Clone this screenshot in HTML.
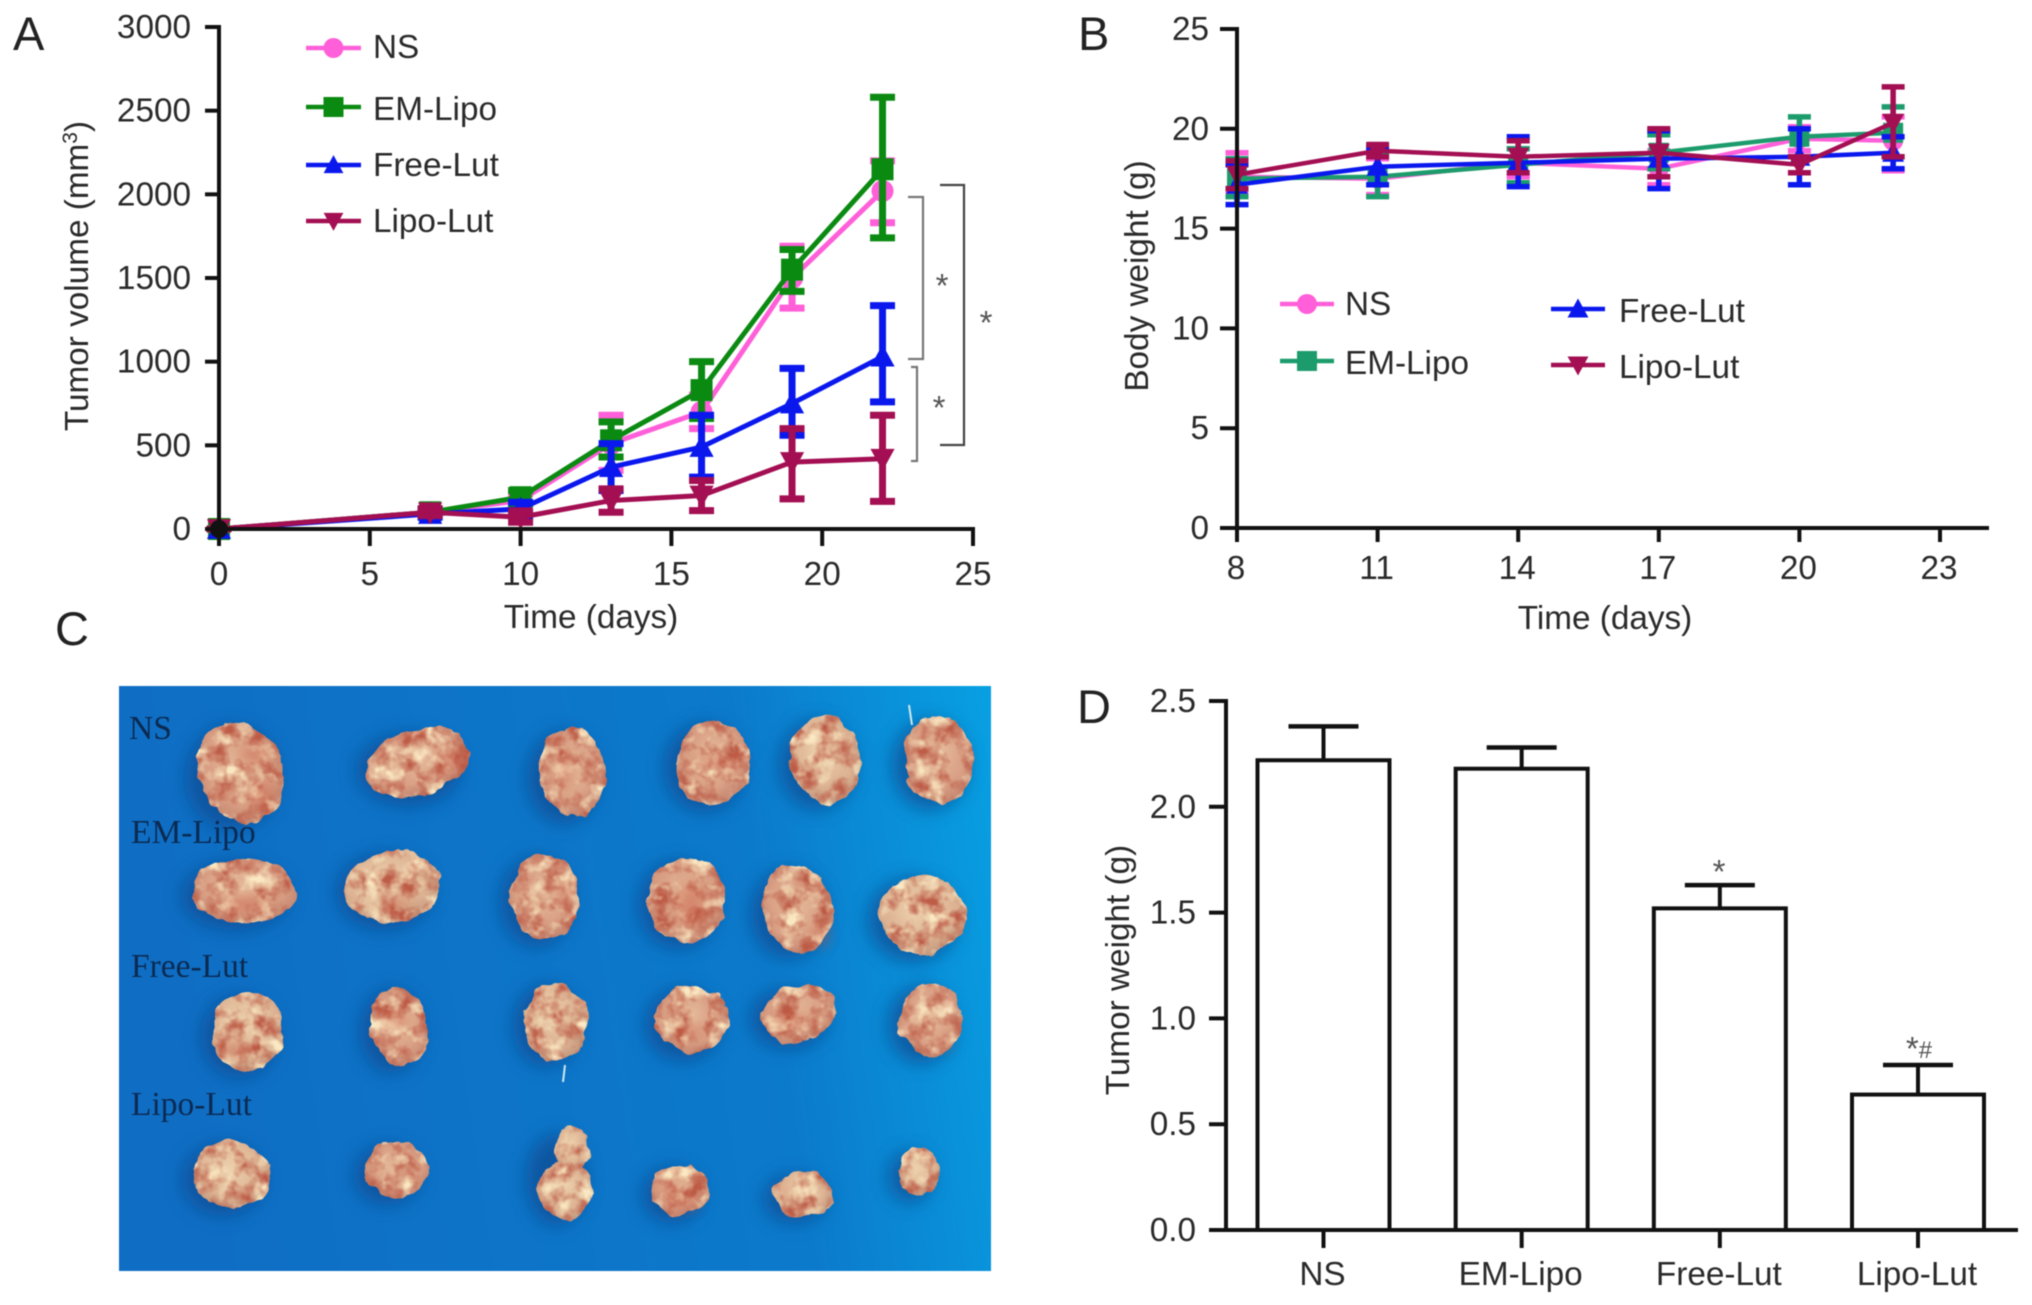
<!DOCTYPE html>
<html lang="en">
<head>
<meta charset="utf-8">
<title>Tumor study figure</title>
<style>
html,body{margin:0;padding:0;background:#fff;}
svg{display:block;filter:blur(.55px);}
text{font-family:"Liberation Sans",sans-serif;font-size:33.3px;fill:#2a2a2a;}
.serif{font-family:"Liberation Serif",serif;font-size:33.5px;fill:#0b2a52;}
.letter{font-size:47px;fill:#222;}
.star{fill:#555;font-size:33px;}
</style>
</head>
<body>
<svg id="fig" xmlns="http://www.w3.org/2000/svg" width="2032" height="1305" viewBox="0 0 2032 1305">
<defs>
  <linearGradient id="bg" x1="0" y1="0.1" x2="1" y2="0">
    <stop offset="0" stop-color="#0f6ec4"/>
    <stop offset=".7" stop-color="#0c7acb"/>
    <stop offset="1" stop-color="#08a0e2"/>
  </linearGradient>
  <radialGradient id="t1" cx=".48" cy=".45" r=".62">
    <stop offset="0" stop-color="#e6bc9c"/>
    <stop offset=".6" stop-color="#d99f84"/>
    <stop offset="1" stop-color="#bd7d68"/>
  </radialGradient>
  <radialGradient id="t2" cx=".45" cy=".4" r=".65">
    <stop offset="0" stop-color="#eed2ae"/>
    <stop offset=".65" stop-color="#dcb292"/>
    <stop offset="1" stop-color="#bf9278"/>
  </radialGradient>
  <filter id="bump" x="-5%" y="-5%" width="110%" height="110%" color-interpolation-filters="sRGB">
    <feTurbulence type="fractalNoise" baseFrequency=".05" numOctaves="3" seed="7" result="n"/>
    <feDisplacementMap in="SourceGraphic" in2="n" scale="11" xChannelSelector="R" yChannelSelector="G" result="d"/>
    <feTurbulence type="fractalNoise" baseFrequency=".055" numOctaves="3" seed="3" result="n2"/>
    <feColorMatrix in="n2" type="matrix" values="0 0 0 0 .74  0 0 0 0 .36  0 0 0 0 .28  2.8 0 0 0 -1.15" result="dark"/>
    <feComposite in="dark" in2="d" operator="in" result="darkIn"/>
    <feColorMatrix in="n2" type="matrix" values="0 0 0 0 .98  0 0 0 0 .91  0 0 0 0 .76  0 3.2 0 0 -1.6" result="light"/>
    <feComposite in="light" in2="d" operator="in" result="lightIn"/>
    <feMerge><feMergeNode in="d"/><feMergeNode in="darkIn"/><feMergeNode in="lightIn"/></feMerge>
  </filter>
  <filter id="soft" x="-50%" y="-50%" width="200%" height="200%"><feGaussianBlur stdDeviation="9"/></filter>
  <filter id="spot" x="-80%" y="-80%" width="260%" height="260%"><feGaussianBlur stdDeviation="6"/></filter>
</defs>

<!-- Photo panel C -->
<g>
  <rect x="119" y="686" width="872" height="585" fill="url(#bg)"/>
  <g fill="#0a4a90" opacity=".7" filter="url(#soft)">
    <ellipse cx="232" cy="778" rx="46" ry="52"/><ellipse cx="408" cy="770" rx="52" ry="36"/><ellipse cx="563" cy="778" rx="36" ry="46"/><ellipse cx="704" cy="768" rx="40" ry="44"/><ellipse cx="817" cy="765" rx="38" ry="45"/><ellipse cx="930" cy="765" rx="38" ry="45"/>
    <ellipse cx="235" cy="896" rx="54" ry="34"/><ellipse cx="384" cy="892" rx="48" ry="38"/><ellipse cx="536" cy="902" rx="36" ry="45"/><ellipse cx="678" cy="905" rx="40" ry="44"/><ellipse cx="789" cy="914" rx="38" ry="45"/><ellipse cx="913" cy="920" rx="45" ry="42"/>
    <ellipse cx="239" cy="1037" rx="38" ry="41"/><ellipse cx="391" cy="1031" rx="31" ry="42"/><ellipse cx="546" cy="1026" rx="33" ry="41"/><ellipse cx="683" cy="1025" rx="38" ry="36"/><ellipse cx="789" cy="1019" rx="39" ry="30"/><ellipse cx="921" cy="1025" rx="33" ry="39"/>
    <ellipse cx="223" cy="1180" rx="41" ry="36"/><ellipse cx="387" cy="1175" rx="33" ry="30"/><ellipse cx="556" cy="1180" rx="30" ry="46"/><ellipse cx="672" cy="1195" rx="30" ry="28"/><ellipse cx="795" cy="1199" rx="32" ry="24"/><ellipse cx="910" cy="1177" rx="22" ry="26"/>
  </g>
  <g filter="url(#bump)">
    <ellipse cx="241" cy="772" rx="42" ry="52" transform="rotate(-25 241 772)" fill="url(#t1)"/>
    <ellipse cx="417" cy="763" rx="52" ry="33" transform="rotate(-15 417 763)" fill="url(#t1)"/>
    <ellipse cx="572" cy="772" rx="33" ry="45" transform="rotate(-5 572 772)" fill="url(#t1)"/>
    <ellipse cx="713" cy="763" rx="37" ry="42" transform="rotate(15 713 763)" fill="url(#t1)"/>
    <ellipse cx="826" cy="759" rx="35" ry="44" transform="rotate(-5 826 759)" fill="url(#t2)"/>
    <ellipse cx="939" cy="759" rx="35" ry="44" transform="rotate(-5 939 759)" fill="url(#t1)"/>
    <ellipse cx="244" cy="891" rx="52" ry="32" fill="url(#t1)"/>
    <ellipse cx="393" cy="887" rx="47" ry="36" transform="rotate(-10 393 887)" fill="url(#t2)"/>
    <ellipse cx="545" cy="897" rx="34" ry="43" transform="rotate(-3 545 897)" fill="url(#t1)"/>
    <ellipse cx="687" cy="900" rx="39" ry="42" transform="rotate(-5 687 900)" fill="url(#t1)"/>
    <ellipse cx="798" cy="909" rx="35" ry="44" transform="rotate(-12 798 909)" fill="url(#t1)"/>
    <ellipse cx="922" cy="915" rx="43" ry="40" fill="url(#t2)"/>
    <ellipse cx="248" cy="1032" rx="36" ry="40" fill="url(#t2)"/>
    <ellipse cx="400" cy="1026" rx="29" ry="40" transform="rotate(-12 400 1026)" fill="url(#t1)"/>
    <ellipse cx="555" cy="1021" rx="31" ry="39" fill="url(#t2)"/>
    <ellipse cx="692" cy="1020" rx="36" ry="34" fill="url(#t1)"/>
    <ellipse cx="798" cy="1014" rx="38" ry="28" transform="rotate(-15 798 1014)" fill="url(#t1)"/>
    <ellipse cx="930" cy="1020" rx="31" ry="37" fill="url(#t1)"/>
    <ellipse cx="232" cy="1175" rx="39" ry="34" transform="rotate(10 232 1175)" fill="url(#t2)"/>
    <ellipse cx="396" cy="1170" rx="32" ry="28" fill="url(#t1)"/>
    <ellipse cx="572" cy="1150" rx="16" ry="26" fill="url(#t2)"/>
    <ellipse cx="565" cy="1190" rx="27" ry="29" fill="url(#t2)"/>
    <ellipse cx="681" cy="1190" rx="28" ry="26" fill="url(#t1)"/>
    <ellipse cx="804" cy="1194" rx="30" ry="22" fill="url(#t2)"/>
    <ellipse cx="919" cy="1172" rx="20" ry="24" fill="url(#t2)"/>
  </g>
  <g fill="#c4523e" opacity=".45" filter="url(#spot)">
    <ellipse cx="255" cy="755" rx="18" ry="7"/><ellipse cx="262" cy="795" rx="10" ry="14"/><ellipse cx="450" cy="760" rx="10" ry="12"/><ellipse cx="565" cy="770" rx="6" ry="18"/><ellipse cx="720" cy="762" rx="26" ry="5"/>
    <ellipse cx="245" cy="904" rx="24" ry="7"/><ellipse cx="395" cy="904" rx="14" ry="7"/><ellipse cx="565" cy="890" rx="5" ry="12"/><ellipse cx="690" cy="905" rx="13" ry="22"/><ellipse cx="822" cy="935" rx="7" ry="12"/>
    <ellipse cx="235" cy="1050" rx="14" ry="7"/><ellipse cx="395" cy="1020" rx="12" ry="9"/><ellipse cx="690" cy="1030" rx="14" ry="5"/><ellipse cx="790" cy="1020" rx="18" ry="7"/><ellipse cx="945" cy="1045" rx="7" ry="5"/>
    <ellipse cx="672" cy="1195" rx="7" ry="14"/><ellipse cx="690" cy="1205" rx="9" ry="5"/><ellipse cx="785" cy="1192" rx="5" ry="4"/>
  </g>
  <g stroke="#cfe8ee" stroke-width="2" fill="none">
    <path d="M909 705L912 725"/>
    <path d="M565 1065L563 1082"/>
  </g>
  <text class="serif" x="129" y="739">NS</text>
  <text class="serif" x="131" y="843">EM-Lipo</text>
  <text class="serif" x="131" y="977">Free-Lut</text>
  <text class="serif" x="131" y="1115">Lipo-Lut</text>
</g>

<!-- Panel letters -->
<text class="letter" x="13" y="50">A</text>
<text class="letter" x="1078" y="50">B</text>
<text class="letter" x="55" y="645">C</text>
<text class="letter" x="1077" y="723">D</text>

<!-- Axis titles -->
<text x="591" y="628" text-anchor="middle">Time (days)</text>
<text transform="translate(88 276) rotate(-90)" text-anchor="middle">Tumor volume (mm<tspan font-size="21" dy="-11">3</tspan><tspan dy="11">)</tspan></text>
<text x="1605" y="629" text-anchor="middle">Time (days)</text>
<text transform="translate(1148 276) rotate(-90)" text-anchor="middle">Body weight (g)</text>
<text transform="translate(1129 970) rotate(-90)" text-anchor="middle">Tumor weight (g)</text>

<!-- Legend A -->
<g>
  <text x="373" y="58">NS</text>
  <text x="373" y="120">EM-Lipo</text>
  <text x="373" y="176">Free-Lut</text>
  <text x="373" y="232">Lipo-Lut</text>
</g>
<!-- Legend B -->
<g>
  <text x="1345" y="315">NS</text>
  <text x="1345" y="374">EM-Lipo</text>
  <text x="1619" y="322">Free-Lut</text>
  <text x="1619" y="378">Lipo-Lut</text>
</g>

<!-- Significance annotations -->
<g fill="none" stroke="#777" stroke-width="2.2">
  <path d="M908 197H923V359H908"/>
  <path d="M911 367H917V461H911"/>
  <path d="M940 185H964V445H940" stroke="#444"/>
</g>
<text class="star" x="942" y="297" text-anchor="middle">*</text>
<text class="star" x="939" y="419" text-anchor="middle">*</text>
<text class="star" x="986" y="334" text-anchor="middle">*</text>
<text class="star" x="1719" y="883" text-anchor="middle">*</text>
<text class="star" x="1919" y="1060" text-anchor="middle">*<tspan font-size="24" dy="-2">#</tspan></text>

<g id="plots"></g>
</svg>

<script>
// Panel A data
const aDays = [0, 7, 10, 13, 16, 19, 22];
const aXTicks = [0, 5, 10, 15, 20, 25];
const aYTicks = [0, 500, 1000, 1500, 2000, 2500, 3000];
const aNS = [0, 100, 170, 510, 700, 1500, 2020];
const aNSHigh = [0, 120, 210, 680, 800, 1690, 2200];
const aNSLow = [0, 80, 130, 350, 600, 1320, 1830];
const aEM = [0, 100, 190, 530, 830, 1550, 2150];
const aEMHigh = [0, 120, 230, 640, 1000, 1670, 2580];
const aEMLow = [0, 80, 150, 430, 660, 1420, 1740];
const aFree = [0, 90, 120, 370, 490, 750, 1030];
const aFreeHigh = [0, 110, 160, 510, 680, 960, 1335];
const aFreeLow = [0, 70, 80, 230, 310, 560, 760];
const aLipo = [0, 100, 70, 170, 200, 400, 420];
const aLipoHigh = [0, 120, 100, 240, 290, 600, 680];
const aLipoLow = [0, 80, 40, 100, 110, 180, 165];

// Panel B data
const bDays = [8, 11, 14, 17, 20, 22];
const bXTicks = [8, 11, 14, 17, 20, 23];
const bYTicks = [0, 5, 10, 15, 20, 25];
const bNS = [17.6, 17.5, 18.3, 18.0, 19.5, 19.4];
const bNSHigh = [18.8, 18.5, 19.0, 18.9, 20.1, 20.6];
const bNSLow = [16.8, 16.7, 17.6, 17.2, 18.9, 17.9];
const bEM = [17.5, 17.6, 18.2, 18.8, 19.6, 19.8];
const bEMHigh = [18.5, 18.8, 19.0, 19.7, 20.6, 21.1];
const bEMLow = [16.6, 16.6, 17.3, 18.0, 18.6, 18.6];
const bFree = [17.2, 18.1, 18.3, 18.5, 18.6, 18.8];
const bFreeHigh = [18.2, 19.0, 19.6, 19.9, 20.0, 19.6];
const bFreeLow = [16.2, 17.2, 17.1, 17.0, 17.2, 18.0];
const bLipo = [17.7, 18.9, 18.6, 18.8, 18.2, 20.3];
const bLipoHigh = [18.4, 19.2, 19.4, 20.0, 18.6, 22.1];
const bLipoLow = [17.0, 18.6, 17.8, 17.6, 17.8, 18.6];

// Panel D data
const dCategories = ['NS', 'EM-Lipo', 'Free-Lut', 'Lipo-Lut'];
const dValues = [2.22, 2.18, 1.52, 0.64];
const dErrorTops = [2.38, 2.28, 1.63, 0.78];
const dYTicks = ['0.0', '0.5', '1.0', '1.5', '2.0', '2.5'];

const NSVG = document.getElementById('fig').namespaceURI;
const plots = document.getElementById('plots');

function node(tag, parent, attrs, name) {
  const el = document.createElementNS(NSVG, tag);
  for (const k in attrs) el.setAttribute(k, attrs[k]);
  
  
  parent.appendChild(el);
  return el;
}
function ln(parent, x1, y1, x2, y2, stroke, w, name) {
  return node('line', parent, {x1, y1, x2, y2, stroke, 'stroke-width': w}, name);
}
function label(parent, x, y, str, anchor, name) {
  const t = node('text', parent, {x, y, 'text-anchor': anchor}, name);
  t.textContent = str;
  return t;
}
function marker(parent, kind, x, y, s, color, name) {
  if (kind === 'circle') return node('circle', parent, {cx: x, cy: y, r: s, fill: color}, name);
  if (kind === 'square') return node('rect', parent, {x: x - s, y: y - s, width: 2 * s, height: 2 * s, fill: color}, name);
  const d = kind === 'up' ? 1 : -1;
  const pts = [[x - s * 1.1, y + d * s * .9], [x + s * 1.1, y + d * s * .9], [x, y - d * s * 1.1]];
  return node('polygon', parent, {points: pts.map(p => p.join(',')).join(' '), fill: color}, name);
}
function series(g, prefix, xs, vals, hi, lo, xf, yf, color, kind, cfg) {
  const sg = node('g', g, {}, prefix + '-series');
  node('polyline', sg, {points: xs.map((d, i) => xf(d) + ',' + yf(vals[i])).join(' '), fill: 'none', stroke: color, 'stroke-width': cfg.lw}, prefix + '-line');
  xs.forEach((d, i) => {
    const x = xf(d);
    ln(sg, x, yf(hi[i]), x, yf(lo[i]), color, cfg.ew, prefix + '-error-bar');
    ln(sg, x - cfg.cap, yf(hi[i]), x + cfg.cap, yf(hi[i]), color, cfg.ew, prefix + '-error-cap-high');
    ln(sg, x - cfg.cap, yf(lo[i]), x + cfg.cap, yf(lo[i]), color, cfg.ew, prefix + '-error-cap-low');
    marker(sg, kind, x, yf(vals[i]), cfg.ms, color, prefix + '-point');
  });
}
function legendKey(g, x1, x2, y, color, kind, s, name) {
  ln(g, x1, y, x2, y, color, 4.5, name + '-line');
  marker(g, kind, (x1 + x2) / 2, y, s, color, name + '-marker');
}

const INK = '#111';
const NS_C = '#ff5fd8', EM_A = '#0b8a12', EM_B = '#1c9c6c', FREE_C = '#0a18ee', LIPO_C = '#a30f52';

/* ---------- Panel A ---------- */
const xA = d => 219 + d * (973 - 219) / 25;
const yA = v => 529 - v * (529 - 27) / 3000;
const gA = node('g', plots, {}, 'panel-a-chart');
const aCfg = {lw: 5, ew: 7, cap: 12.5, ms: 11};
series(gA, 'a-ns', aDays, aNS, aNSHigh, aNSLow, xA, yA, NS_C, 'circle', aCfg);
series(gA, 'a-em-lipo', aDays, aEM, aEMHigh, aEMLow, xA, yA, EM_A, 'square', aCfg);
series(gA, 'a-free-lut', aDays, aFree, aFreeHigh, aFreeLow, xA, yA, FREE_C, 'up', aCfg);
series(gA, 'a-lipo-lut', aDays, aLipo, aLipoHigh, aLipoLow, xA, yA, LIPO_C, 'down', aCfg);
ln(gA, xA(0), yA(0) + 2, xA(0), yA(3000) - 2, INK, 4, 'a-y-axis');
ln(gA, xA(0) - 2, yA(0), xA(25) + 2, yA(0), INK, 4, 'a-x-axis');
aYTicks.forEach(v => {
  ln(gA, 205, yA(v), xA(0), yA(v), INK, 4, 'a-y-tick');
  label(gA, 191, yA(v) + 11, String(v), 'end', 'a-y-tick-label');
});
aXTicks.forEach(v => {
  ln(gA, xA(v), yA(0), xA(v), 546, INK, 4, 'a-x-tick');
  label(gA, xA(v), 585, String(v), 'middle', 'a-x-tick-label');
});
node('circle', gA, {cx: xA(0), cy: yA(0), r: 9, fill: '#111'}, 'a-origin-dot');
legendKey(gA, 306, 361, 48, NS_C, 'circle', 10, 'a-legend-ns-key');
legendKey(gA, 306, 361, 107, EM_A, 'square', 10, 'a-legend-em-key');
legendKey(gA, 306, 361, 165, FREE_C, 'up', 9, 'a-legend-free-key');
legendKey(gA, 306, 361, 221, LIPO_C, 'down', 9, 'a-legend-lipo-key');

/* ---------- Panel B ---------- */
const xB = d => 1237 + (d - 8) * (1940 - 1237) / 15;
const yB = v => 528 - v * (528 - 29) / 25;
const gB = node('g', plots, {}, 'panel-b-chart');
const bCfg = {lw: 4.5, ew: 5.5, cap: 11.5, ms: 10};
series(gB, 'b-ns', bDays, bNS, bNSHigh, bNSLow, xB, yB, NS_C, 'circle', bCfg);
series(gB, 'b-em-lipo', bDays, bEM, bEMHigh, bEMLow, xB, yB, EM_B, 'square', bCfg);
series(gB, 'b-free-lut', bDays, bFree, bFreeHigh, bFreeLow, xB, yB, FREE_C, 'up', bCfg);
series(gB, 'b-lipo-lut', bDays, bLipo, bLipoHigh, bLipoLow, xB, yB, LIPO_C, 'down', bCfg);
ln(gB, 1237, yB(0) + 2, 1237, yB(25) - 2, INK, 4, 'b-y-axis');
ln(gB, 1235, yB(0), 1989, yB(0), INK, 4, 'b-x-axis');
bYTicks.forEach(v => {
  ln(gB, 1220, yB(v), 1237, yB(v), INK, 4, 'b-y-tick');
  label(gB, 1209, yB(v) + 11, String(v), 'end', 'b-y-tick-label');
});
bXTicks.forEach(v => {
  ln(gB, xB(v), yB(0), xB(v), 542, INK, 4, 'b-x-tick');
  label(gB, xB(v) - 1, 579, String(v), 'middle', 'b-x-tick-label');
});
legendKey(gB, 1280, 1334, 304, NS_C, 'circle', 10, 'b-legend-ns-key');
legendKey(gB, 1280, 1334, 361, EM_B, 'square', 10, 'b-legend-em-key');
legendKey(gB, 1551, 1605, 309, FREE_C, 'up', 9.5, 'b-legend-free-key');
legendKey(gB, 1551, 1605, 365, LIPO_C, 'down', 9.5, 'b-legend-lipo-key');

/* ---------- Panel D ---------- */
const yD = v => 1230 - v * (1230 - 701) / 2.5;
const xD = i => 1323.5 + i * (1918 - 1323.5) / 3;
const barW = 132;
const gD = node('g', plots, {}, 'panel-d-chart');
dCategories.forEach((c, i) => {
  const key = c.toLowerCase();
  ln(gD, xD(i), yD(dValues[i]), xD(i), yD(dErrorTops[i]), INK, 4, 'd-error-bar-' + key);
  ln(gD, xD(i) - 35, yD(dErrorTops[i]), xD(i) + 35, yD(dErrorTops[i]), INK, 4.5, 'd-error-cap-' + key);
  node('rect', gD, {x: xD(i) - barW / 2, y: yD(dValues[i]), width: barW, height: yD(0) - yD(dValues[i]), fill: '#fff', stroke: INK, 'stroke-width': 4}, 'd-bar-' + key);
  ln(gD, xD(i), yD(0), xD(i), 1248, INK, 4, 'd-x-tick');
  label(gD, xD(i) - 1, 1285, c, 'middle', 'd-x-tick-label');
});
ln(gD, 1226, yD(0) + 2, 1226, yD(2.5) - 2, INK, 4, 'd-y-axis');
ln(gD, 1209, yD(0), 2018, yD(0), INK, 4, 'd-x-axis');
dYTicks.forEach(t => {
  const v = parseFloat(t);
  ln(gD, 1209, yD(v), 1226, yD(v), INK, 4, 'd-y-tick');
  label(gD, 1196, yD(v) + 11, t, 'end', 'd-y-tick-label');
});
</script>
</body>
</html>
